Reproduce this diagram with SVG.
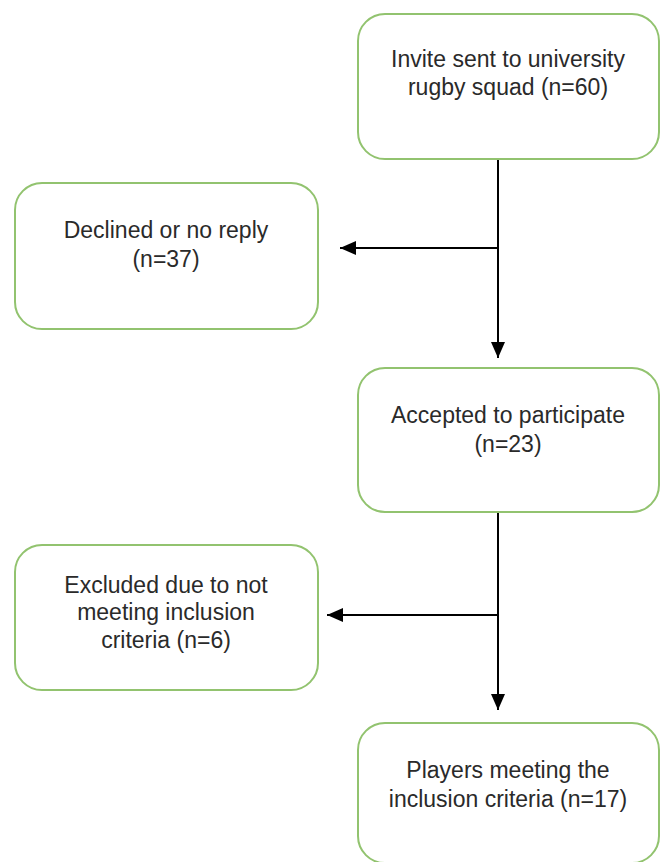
<svg xmlns="http://www.w3.org/2000/svg" width="663" height="862" viewBox="0 0 663 862">
<style>
.box{fill:#ffffff;stroke:#92c36f;stroke-width:2}
.t{font-family:"Liberation Sans",Arial,sans-serif;font-size:23px;fill:#2a2a2a;text-anchor:middle}
.c{stroke:#000;stroke-width:2;fill:none}
</style>
<defs>
<marker id="ah" viewBox="0 0 16 14" refX="16" refY="7" markerWidth="16" markerHeight="14" markerUnits="userSpaceOnUse" orient="auto">
<path d="M0,0 L16,7 L0,14 Z" fill="#000"/>
</marker>
</defs>
<rect width="663" height="862" fill="#ffffff"/>
<g id="connectors">
<line class="c" x1="498" y1="159" x2="498" y2="358" marker-end="url(#ah)"/>
<line class="c" x1="498" y1="248" x2="340" y2="248" marker-end="url(#ah)"/>
<line class="c" x1="498" y1="512" x2="498" y2="710" marker-end="url(#ah)"/>
<line class="c" x1="498" y1="615" x2="327" y2="615" marker-end="url(#ah)"/>
</g>
<g id="invite">
<rect class="box" x="358" y="14" width="301" height="145" rx="27"/>
<text class="t" x="508" y="67">Invite sent to university</text>
<text class="t" x="508" y="95">rugby squad (n=60)</text>
</g>
<g id="declined">
<rect class="box" x="15" y="183" width="303" height="146" rx="27"/>
<text class="t" x="166" y="238">Declined or no reply</text>
<text class="t" x="166" y="267">(n=37)</text>
</g>
<g id="accepted">
<rect class="box" x="358" y="368" width="301" height="144" rx="27"/>
<text class="t" x="508" y="423">Accepted to participate</text>
<text class="t" x="508" y="452">(n=23)</text>
</g>
<g id="excluded">
<rect class="box" x="15" y="545" width="303" height="145" rx="27"/>
<text class="t" x="166" y="593">Excluded due to not</text>
<text class="t" x="166" y="620">meeting inclusion</text>
<text class="t" x="166" y="648">criteria (n=6)</text>
</g>
<g id="players">
<rect class="box" x="358" y="723" width="301" height="140" rx="27"/>
<text class="t" x="508" y="778">Players meeting the</text>
<text class="t" x="508" y="807">inclusion criteria (n=17)</text>
</g>
</svg>
